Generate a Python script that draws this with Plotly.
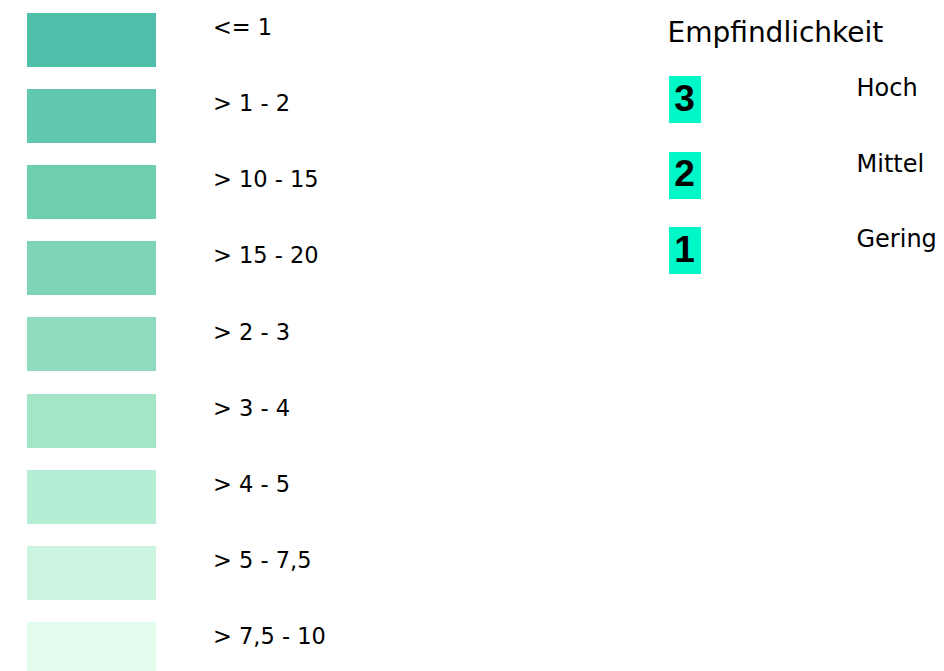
import plotly.graph_objects as go

# Klassen (linke Legende)
classes = ["<= 1", "> 1 - 2", "> 10 - 15", "> 15 - 20", "> 2 - 3",
           "> 3 - 4", "> 4 - 5", "> 5 - 7,5", "> 7,5 - 10"]
class_colors = ["#50BFA9", "#60C8AC", "#6DCEB0", "#7ED4B5", "#8FDDBE",
                "#A3E6C7", "#B5EED4", "#CBF5E1", "#E2FDEE"]

# Empfindlichkeit (rechte Legende)
sens_title = "Empfindlichkeit"
sens_levels = ["3", "2", "1"]
sens_names = ["Hoch", "Mittel", "Gering"]
sens_color = "#00F7C8"

W, H = 944, 671
PAD = 8  # body margin of the html page
TXT = "#000000"

row_y = [40 + 76.1 * i for i in range(len(classes))]
sens_y = [99.5 + 75.7 * i for i in range(len(sens_levels))]

fig = go.Figure()

# farbige Felder
fig.add_trace(go.Bar(
    orientation="h", y=row_y, x=[129] * len(classes), base=26.5,
    width=54, marker=dict(color=class_colors, line=dict(width=0)),
    hoverinfo="skip", showlegend=False,
))
fig.add_trace(go.Scatter(
    x=[213] * len(classes), y=[y - 10.5 for y in row_y], mode="text",
    text=classes, textposition="middle right",
    textfont=dict(family="DejaVu Sans", size=22.5, color=TXT),
    hoverinfo="skip", showlegend=False,
))

# Empfindlichkeit
fig.add_trace(go.Bar(
    orientation="h", y=sens_y, x=[32] * len(sens_levels), base=668.5,
    width=47, marker=dict(color=sens_color, line=dict(width=0)),
    hoverinfo="skip", showlegend=False,
))
fig.add_trace(go.Scatter(
    x=[684.5] * len(sens_levels), y=[y + 2 for y in sens_y], mode="text",
    text=[f"<b>{s}</b>" for s in sens_levels], textposition="middle center",
    textfont=dict(family="Liberation Sans", size=37, color="#000000"),
    hoverinfo="skip", showlegend=False,
))
fig.add_trace(go.Scatter(
    x=[856.5] * len(sens_names), y=[y - 9.5 for y in sens_y], mode="text",
    text=sens_names, textposition="middle right",
    textfont=dict(family="DejaVu Sans", size=24, color=TXT),
    hoverinfo="skip", showlegend=False,
))
fig.add_trace(go.Scatter(
    x=[667.5], y=[34.5], mode="text", text=[sens_title],
    textposition="middle right",
    textfont=dict(family="DejaVu Sans", size=28, color=TXT),
    hoverinfo="skip", showlegend=False,
))

fig.update_xaxes(range=[PAD, W], visible=False, fixedrange=True)
fig.update_yaxes(range=[H, PAD], visible=False, fixedrange=True)
fig.update_layout(
    width=W - PAD, height=H - PAD,
    margin=dict(l=0, r=0, t=0, b=0),
    paper_bgcolor="white", plot_bgcolor="white",
    barmode="overlay", bargap=0,
)

fig.write_html("out.html")
